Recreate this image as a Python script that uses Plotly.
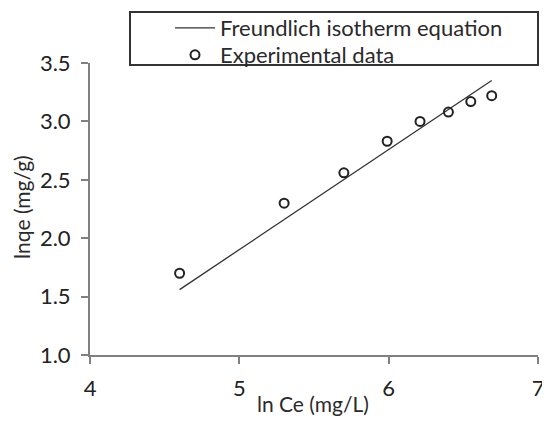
import plotly.graph_objects as go

ln_ce = [4.60, 5.30, 5.70, 5.99, 6.21, 6.40, 6.55, 6.69]
ln_qe = [1.70, 2.30, 2.56, 2.83, 3.00, 3.08, 3.17, 3.22]
fit_x = [4.60, 6.69]
fit_y = [1.56, 3.35]

x_ticks = [4, 5, 6, 7]
y_ticks = [1.0, 1.5, 2.0, 2.5, 3.0, 3.5]
x_title = "ln Ce (mg/L)"
y_title = "lnqe (mg/g)"

font_family = "Lato, 'Open Sans', sans-serif"
OFF = 8  # page body margin
L, R, T, B = 82, 12, 55, 68
W, H = 542, 415
pw, ph = W - L - R, H - T - B


def px_x(p):
    return (p - OFF - L) / pw


def px_y(p):
    return (H - B - (p - OFF)) / ph


def cx(p):
    return (p - OFF) / W


def cy(p):
    return 1 - (p - OFF) / H


fig = go.Figure()
fig.add_trace(go.Scatter(
    x=fit_x, y=fit_y, mode="lines", name="Freundlich isotherm equation",
    line=dict(color="#333333", width=1.3), legend="legend"))
fig.add_trace(go.Scatter(
    x=ln_ce, y=ln_qe, mode="markers", name="Experimental data",
    marker=dict(symbol="circle-open", size=9, color="#222222",
                line=dict(width=2, color="#222222")), legend="legend2"))

# legend frame
fig.add_shape(type="rect", xref="paper", yref="paper",
              x0=px_x(130), x1=px_x(538), y0=px_y(65), y1=px_y(12),
              line=dict(color="#333333", width=2), fillcolor="rgba(0,0,0,0)",
              layer="above")

# axis titles
fig.add_annotation(text=x_title, xref="paper", yref="paper",
                   x=px_x(313), y=px_y(403), xanchor="center", yanchor="middle",
                   showarrow=False, font=dict(size=21, color="#2a2a2a"))
fig.add_annotation(text=y_title, xref="paper", yref="paper", textangle=-90,
                   x=px_x(21), y=px_y(207), xanchor="center", yanchor="middle",
                   showarrow=False, font=dict(size=21, color="#2a2a2a"))

leg_common = dict(xanchor="left", yanchor="middle", borderwidth=0,
                  xref="container", yref="container",
                  bgcolor="rgba(0,0,0,0)", font=dict(size=22, color="#2a2a2a"),
                  itemwidth=40)

fig.update_layout(
    width=W, height=H,
    margin=dict(l=L, r=R, t=T, b=B, autoexpand=False),
    plot_bgcolor="white", paper_bgcolor="white",
    font=dict(family=font_family, size=21, color="#2a2a2a"),
    showlegend=True,
    legend=dict(x=cx(170), y=cy(28), **leg_common),
    legend2=dict(x=cx(170), y=cy(55), **leg_common),
    xaxis=dict(range=[4, 7], tickvals=x_ticks, ticktext=[str(v) for v in x_ticks],
               tickfont=dict(size=22, color="#222222"), ticklabelstandoff=6,
               showgrid=False, zeroline=False, showline=True, automargin=False,
               linecolor="#808080", linewidth=2, ticks="outside",
               ticklen=7, tickwidth=2, tickcolor="#808080"),
    yaxis=dict(range=[1.0, 3.5], tickvals=y_ticks, automargin=False,
               ticktext=[f"{v:.1f}" for v in y_ticks],
               tickfont=dict(size=22, color="#222222"), ticklabelstandoff=6,
               showgrid=False, zeroline=False, showline=True,
               linecolor="#808080", linewidth=2, ticks="outside",
               ticklen=7, tickwidth=2, tickcolor="#808080"),
)

fig.write_html("out.html")
